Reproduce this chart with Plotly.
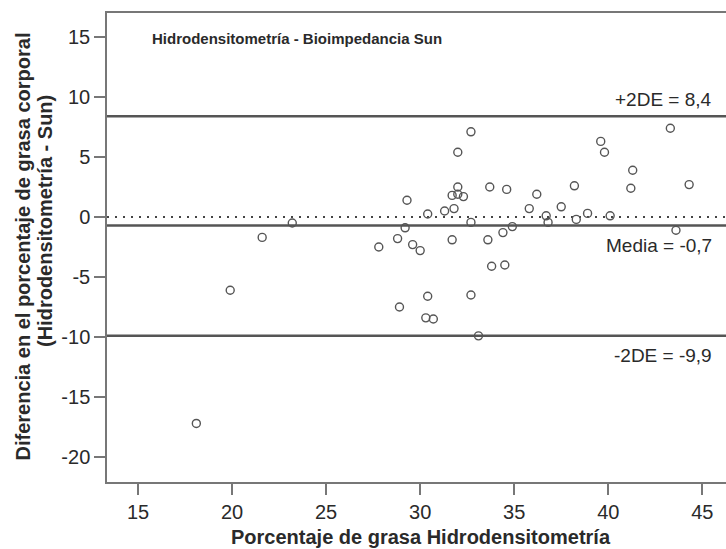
import plotly.graph_objects as go

# Data
hidro = [18.1, 19.9, 21.6, 23.2, 27.8, 28.8, 28.9, 29.2, 29.3, 29.6,
         30.0, 30.3, 30.4, 30.4, 30.7, 31.3, 31.7, 31.7, 31.8, 32.0,
         32.0, 32.0, 32.3, 32.7, 32.7, 32.7, 33.1, 33.6, 33.7, 33.8,
         34.4, 34.5, 34.6, 34.9, 35.8, 36.2, 36.7, 36.8, 37.5, 38.2,
         38.3, 38.9, 39.6, 39.8, 40.1, 41.2, 41.3, 43.3, 43.6, 44.3]
diff = [-17.2, -6.1, -1.7, -0.5, -2.5, -1.8, -7.5, -0.9, 1.4, -2.3,
        -2.8, -8.4, -6.6, 0.25, -8.5, 0.5, 1.8, -1.9, 0.7, 5.4,
        2.5, 1.9, 1.7, 7.1, -0.45, -6.5, -9.9, -1.9, 2.5, -4.1,
        -1.3, -4.0, 2.3, -0.8, 0.7, 1.9, 0.1, -0.45, 0.85, 2.6,
        -0.2, 0.3, 6.3, 5.4, 0.1, 2.4, 3.9, 7.4, -1.1, 2.7]

ref_values = [8.4, -0.7, -9.9]
ref_labels = ["+2DE = 8,4", "Media = -0,7", "-2DE = -9,9"]
zero_value = [0]
x_ticks = [15, 20, 25, 30, 35, 40, 45]
x_ticktext = ["15", "20", "25", "30", "35", "40", "45"]
y_ticks = [-20, -15, -10, -5, 0, 5, 10, 15]
y_ticktext = ["-20", "-15", "-10", "-5", "0", "5", "10", "15"]

title_text = "Hidrodensitometría - Bioimpedancia Sun"
x_title = "Porcentaje de grasa Hidrodensitometría"
y_title1 = "Diferencia en el porcentaje de grasa corporal"
y_title2 = "(Hidrodensitometría - Sun)"

W, H = 726, 549
L, R, T, B = 107, 0, 13, 67
pw, ph = W - L - R, H - T - B

def px_to_paper_x(px):
    return (px - L) / pw

def px_to_paper_y(py):
    return (H - B - py) / ph

FONT = "Liberation Sans, Arial, sans-serif"
TXT = "#2a2a2a"

fig = go.Figure()

fig.add_trace(go.Scatter(
    x=hidro, y=diff, mode="markers",
    marker=dict(symbol="circle-open", size=8, color="#555555",
                line=dict(width=1.4, color="#555555")),
    showlegend=False, hoverinfo="x+y"))

shapes = []
for v in ref_values:
    shapes.append(dict(type="line", xref="paper", yref="y", x0=0, x1=1,
                       y0=v, y1=v, line=dict(color="#555555", width=2.5),
                       layer="below"))
for v in zero_value:
    shapes.append(dict(type="line", xref="paper", yref="y", x0=0, x1=1,
                       y0=v, y1=v, line=dict(color="#444444", width=2,
                                             dash="2px,6px"),
                       layer="below"))

label_y_px = [99.5, 245.5, 355]
annotations = []
for lab, py in zip(ref_labels, label_y_px):
    annotations.append(dict(text=lab, xref="paper", yref="paper",
                            x=px_to_paper_x(714), y=px_to_paper_y(py),
                            xanchor="right", yanchor="middle", showarrow=False,
                            font=dict(family=FONT, size=19, color=TXT)))

annotations.append(dict(text="<b>" + title_text + "</b>", xref="paper", yref="paper",
                        x=px_to_paper_x(297), y=px_to_paper_y(39),
                        xanchor="center", yanchor="middle", showarrow=False,
                        font=dict(family=FONT, size=15, color=TXT)))
annotations.append(dict(text="<b>" + x_title + "</b>", xref="paper", yref="paper",
                        x=px_to_paper_x(421), y=px_to_paper_y(537),
                        xanchor="center", yanchor="middle", showarrow=False,
                        font=dict(family=FONT, size=20, color=TXT)))
annotations.append(dict(text="<b>" + y_title1 + "</b>", xref="paper", yref="paper",
                        x=px_to_paper_x(23), y=px_to_paper_y(246.5), textangle=-90,
                        xanchor="center", yanchor="middle", showarrow=False,
                        font=dict(family=FONT, size=20, color=TXT)))
annotations.append(dict(text="<b>" + y_title2 + "</b>", xref="paper", yref="paper",
                        x=px_to_paper_x(45), y=px_to_paper_y(221), textangle=-90,
                        xanchor="center", yanchor="middle", showarrow=False,
                        font=dict(family=FONT, size=20, color=TXT)))

fig.update_layout(
    width=W, height=H,
    margin=dict(l=L, r=R, t=T, b=B, pad=0),
    paper_bgcolor="white", plot_bgcolor="white",
    shapes=shapes, annotations=annotations,
    font=dict(family=FONT, color=TXT),
    xaxis=dict(range=[13.35, 46.26], tickvals=x_ticks, ticktext=x_ticktext,
               ticks="outside",
               ticklen=11, tickwidth=1.5, tickcolor="#777777",
               showline=True, linecolor="#777777", linewidth=1.5, mirror=True,
               showgrid=False, zeroline=False,
               tickfont=dict(family=FONT, size=20, color=TXT)),
    yaxis=dict(range=[-22.08, 17.0], tickvals=y_ticks, ticktext=y_ticktext,
               ticks="outside",
               ticklen=11, tickwidth=1.5, tickcolor="#777777",
               showline=True, linecolor="#777777", linewidth=1.5,
               showgrid=False, zeroline=False,
               tickfont=dict(family=FONT, size=20, color=TXT)),
)

fig.write_html("out.html",
               config={"displayModeBar": False},
               post_script="document.body.style.margin='0';"
                           "document.body.style.overflow='hidden';")
